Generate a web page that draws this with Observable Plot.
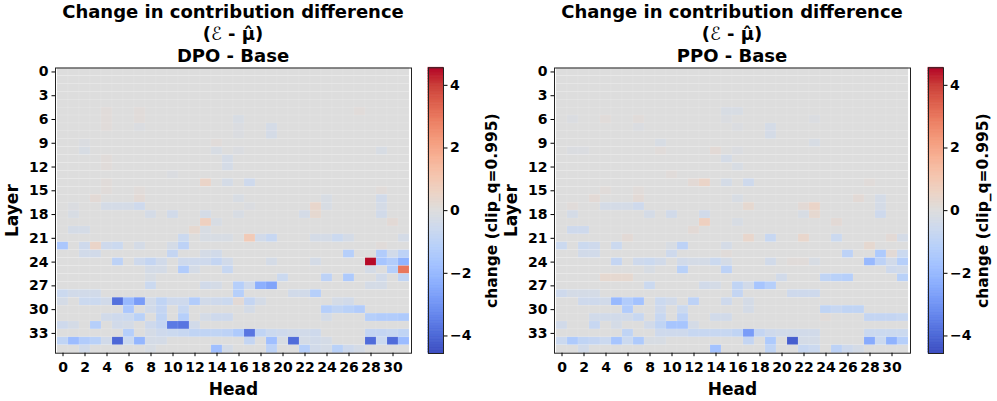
<!DOCTYPE html>
<html><head><meta charset="utf-8">
<script src="https://cdn.jsdelivr.net/npm/d3@7"></script>
<script src="https://cdn.jsdelivr.net/npm/@observablehq/plot@0.6"></script>
<style>
body{margin:0;background:#fff;}
#chart{position:relative;width:997px;height:401px;overflow:hidden;font-family:"DejaVu Sans",sans-serif;}
.abs{position:absolute;top:0;}
.title{position:absolute;top:1px;width:420px;text-align:center;font-weight:bold;font-size:18px;line-height:22px;color:#000;white-space:nowrap;font-family:"DejaVu Sans",sans-serif;}
.cal{font-style:italic;font-weight:normal;}
</style></head><body><div id="chart"></div><script>
const heads = [0,1,2,3,4,5,6,7,8,9,10,11,12,13,14,15,16,17,18,19,20,21,22,23,24,25,26,27,28,29,30,31];
const layers = [0,1,2,3,4,5,6,7,8,9,10,11,12,13,14,15,16,17,18,19,20,21,22,23,24,25,26,27,28,29,30,31,32,33,34,35];
const headTicks = [0,2,4,6,8,10,12,14,16,18,20,22,24,26,28,30];
const layerTicks = [0,3,6,9,12,15,18,21,24,27,30,33];
const cbTicks = [-4,-2,0,2,4];
const cbMin = -4.56, cbMax = 4.56;
const titleLine1 = "Change in contribution difference";
const panelNames = ["DPO - Base", "PPO - Base"];
const cbLabel = "change (clip_q=0.995)";
const coolwarmColors = ["#3b4cc0","#4d68d7","#6282ea","#779af7","#8db0fe","#a3c2ff","#b8d0f9","#ccd9ee","#dddddd","#ecd3c5","#f5c4ad","#f7b194","#f49a7b","#ec7f63","#de604d","#cb3e38","#b40426"];

const dpo = [
[0,0,0,0,0,0,0,0, 0,0,0,0,0,0,0,0, 0,0,0,0,0,0,0,0, 0,0,0,0,0,0,0,0],
[0,0,0,0,0,0,0,0, 0,0,0,0,0,0,0,0, 0,0,0,0,0,0,0,0, 0,0,0,0,0,0,0,0],
[0,0,0,0,0,0,0,0, 0,0,0,0,0,0,0,0, 0,0,0,0,0,0,0,0, 0,0,0,0,0,0,0,0],
[0,0,0,0,0,0,0,0, 0,0,0,0,0,0,0,0, 0,0,0,0,0,0,0,0, 0,0,0,0,0,0,0,0],
[0,0,0,0,0,0,0,0, 0,0,0,0,0,0,0,0, 0,0,0,0,0,0,0,0, 0,0,0,0,0,0,0,0],
[0,0,0,0,.1,0,0,.1, 0,0,0,0,0,0,0,0, 0,0,0,0,0,0,0,0, 0,0,0,.1,0,0,0,0],
[0,0,0,0,.1,0,0,.1, 0,0,0,0,0,0,0,0, -.2,0,0,0,0,0,0,0, 0,0,0,0,0,0,0,0],
[0,0,0,0,.1,0,0,-.1, 0,0,0,0,0,0,0,0, -.1,0,0,-.3,0,0,0,0, 0,0,0,0,0,0,0,0],
[0,0,0,0,0,0,0,0, 0,0,0,0,0,0,0,0, -.1,0,0,-.3,0,0,0,0, 0,0,0,0,0,0,0,0],
[0,0,-.1,0,0,0,0,0, 0,0,0,0,0,0,.1,0, 0,0,0,0,0,0,0,0, 0,0,0,0,0,0,0,0],
[0,0,-.2,0,0,0,0,0, 0,0,0,0,0,0,-.2,0, -.1,0,0,0,0,0,0,0, 0,0,0,0,0,-.2,0,0],
[0,0,0,0,.1,0,0,0, 0,0,0,0,0,0,0,-.3, 0,0,0,0,0,0,0,0, 0,0,0,0,0,0,0,0],
[0,0,0,0,.1,0,0,0, 0,0,0,0,0,0,0,-.3, 0,0,0,0,0,0,0,0, 0,0,0,0,0,0,0,0],
[0,0,0,0,0,0,0,0, 0,0,-.1,0,0,0,0,0, 0,0,0,0,0,0,0,0, 0,0,0,0,0,0,0,0],
[0,0,0,0,.1,0,0,0, 0,0,0,0,0,.5,0,-.3, 0,-.5,0,0,0,0,0,0, 0,0,0,0,0,0,0,0],
[0,0,0,0,.1,0,0,.1, 0,0,0,0,0,0,0,0, 0,0,0,0,0,0,0,0, 0,0,0,0,0,.1,0,0],
[0,0,0,.2,0,0,0,.2, 0,0,0,0,0,0,0,0, -.2,0,0,0,0,0,0,0, -.2,0,0,0,0,-.4,0,0],
[0,-.1,0,0,-.3,-.3,-.3,-.5, 0,0,0,0,0,0,0,0, 0,-.1,0,0,0,0,0,.4, -.2,0,0,0,0,-.3,0,0],
[0,-.2,0,0,0,0,0,0, -.3,0,-.4,0,0,-.3,0,0, -.2,0,0,0,0,0,-.3,.3, 0,0,0,0,0,-.4,0,0],
[0,0,0,0,0,0,0,0, 0,0,0,0,0,.7,-.2,0, 0,0,0,0,0,0,0,0, 0,0,0,0,0,0,.2,0],
[0,-.3,-.3,0,0,0,0,0, 0,0,0,0,.3,-.2,0,0, 0,0,0,0,0,0,0,0, 0,0,0,0,0,0,0,0],
[0,0,0,0,0,0,0,0, 0,0,0,-.6,0,-.2,-.2,-.2, 0,.9,-.4,-.7,0,0,0,-.3, -.3,-.6,-.3,0,0,0,0,-.3],
[-1.5,0,-.5,.5,-.5,-.6,0,-.3, 0,0,-.3,-1,0,0,0,0, 0,0,0,0,0,0,0,0, 0,0,0,0,0,.1,0,0],
[0,0,-.4,-.4,0,0,0,0, 0,0,-.8,0,0,-.3,-.4,0, 0,0,0,0,0,0,0,0, 0,0,-1.2,0,0,-1.3,-.4,-1],
[0,0,0,0,0,-1,0,-.5, -.8,-.4,0,-.5,-.5,-.5,-.8,-.4, 0,0,0,-.3,0,0,0,-.3, 0,0,0,0,4.5,-1.6,-1.3,-2.2],
[0,0,0,0,0,0,0,0, -.3,-.3,0,-1.3,-.3,0,0,-.7, 0,0,0,0,0,0,0,0, 0,0,0,0,-.3,0,-1.2,3],
[0,0,0,0,0,0,0,0, -.2,0,0,0,0,0,0,0, 0,0,0,0,-.6,0,0,0, -1,0,-1.4,0,0,-.4,0,-.9],
[0,0,0,0,0,0,0,0, -.6,0,0,0,0,-.4,-.3,0, -1.2,-.5,-2.3,-2.6,0,0,0,0, 0,0,0,0,-.3,-.3,0,0],
[-.6,-.4,-.4,-.4,0,0,0,0, 0,0,0,0,0,0,0,0, -1.2,0,0,0,0,-.4,-.4,-1.2, 0,0,0,0,0,0,0,0],
[-.3,0,-.6,-.6,-.4,-3.8,-2,-2.8, -.4,-.9,-.5,-.5,-1.3,-.4,-.5,-.6, .2,-.8,-.3,0,0,0,0,0, 0,-.3,-.4,0,0,0,0,0],
[0,0,0,0,0,0,-1.5,0, -.4,-.8,0,-.7,0,0,0,0, 0,-.3,0,0,0,0,0,0, -1.2,-.9,-1.1,-1.3,0,0,0,0],
[0,0,0,0,-.4,-.5,-.6,-1.1, 0,-.9,0,-1.2,0,-.3,-.5,-.5, 0,0,0,0,0,0,0,0, -.3,0,0,0,-1.2,-1.3,-1.3,-1.4],
[-.5,-.3,0,-1.2,0,-.4,-.3,0, -.5,-.8,-3.6,-3.7,-.4,0,0,0, 0,0,0,0,0,0,0,0, 0,0,0,0,0,0,0,0],
[0,0,0,0,0,0,-1.2,0, -.3,-.5,-.6,-.7,-.9,-.9,-.9,-1, -1.4,-3.7,-.9,-.6,-.5,-.4,-.4,-.5, 0,0,0,0,-.8,-.8,-.7,-.9],
[-.9,-1.9,-1.3,-1.1,-.4,-4,-.6,-2.1, -.3,-.3,0,0,0,0,0,0, 0,-.8,0,-1.8,-.2,-3.9,-.3,-.4, -.3,0,0,0,-3.9,-.6,-3.9,-1.9],
[0,0,-.4,0,0,0,0,0, -.2,0,0,0,0,0,-1.8,-.3, 0,0,0,-1,0,0,-1.2,-.4, -.3,-1.1,-.5,-.3,0,0,0,0]
];

const ppo = [
[0,0,0,0,0,0,0,0, 0,0,0,0,0,0,0,0, 0,0,0,0,0,0,0,0, 0,0,0,0,0,0,0,0],
[0,0,0,0,0,0,0,0, 0,0,0,0,0,0,0,0, 0,0,0,0,0,0,0,0, 0,0,0,0,0,0,0,0],
[0,0,0,0,0,0,0,0, 0,0,0,0,0,0,0,0, 0,0,0,0,0,0,0,0, 0,0,0,0,0,0,0,0],
[0,0,0,0,0,0,0,0, 0,0,0,0,0,0,0,0, 0,0,0,0,0,0,0,0, 0,0,0,0,0,0,0,0],
[0,0,0,0,0,0,0,0, 0,0,0,0,0,0,0,0, 0,0,0,0,0,0,0,0, 0,0,0,0,0,0,0,0],
[0,0,0,0,0,0,0,0, 0,0,0,0,0,0,0,-.2, -.2,0,0,0,0,0,0,0, 0,0,0,0,0,0,0,0],
[0,-.1,0,0,.1,0,0,.1, 0,0,0,0,0,0,0,-.1, 0,0,0,0,0,0,0,-.1, 0,0,0,0,0,0,0,0],
[0,0,0,0,0,0,0,-.1, 0,0,0,0,0,0,0,0, -.1,0,0,-.3,0,0,0,0, 0,0,0,0,0,0,0,0],
[0,0,0,0,0,0,0,0, 0,0,0,0,0,0,0,0, 0,0,0,-.3,0,0,0,0, 0,0,0,0,0,0,0,0],
[0,0,0,0,0,0,0,0, 0,-.2,0,0,0,0,0,0, 0,0,0,0,0,0,0,-.2, 0,0,0,0,0,0,0,0],
[0,-.1,-.1,0,0,0,0,0, 0,.1,0,0,0,0,.2,0, -.1,0,0,0,0,0,0,0, 0,0,0,0,0,0,0,0],
[0,0,0,0,0,0,0,0, 0,0,0,0,0,0,0,-.3, 0,0,0,0,0,0,0,0, 0,0,0,0,0,0,0,0],
[0,0,0,0,0,0,0,0, 0,0,0,0,0,0,0,0, -.2,0,0,0,0,0,0,0, 0,0,0,0,0,0,0,0],
[0,0,0,0,0,0,0,0, 0,0,.1,0,0,0,0,0, 0,0,0,0,0,0,0,0, 0,0,0,0,0,0,0,0],
[0,0,0,0,0,0,0,0, 0,0,0,0,.2,.5,0,-.3, 0,-.5,0,0,0,0,0,0, 0,0,0,0,.1,0,0,0],
[0,0,0,0,.1,0,0,.1, 0,0,0,0,0,0,0,0, 0,0,0,0,0,0,0,0, 0,0,0,0,0,0,0,0],
[0,0,0,.2,0,0,0,.2, 0,0,0,0,0,0,0,0, -.2,0,0,0,0,0,0,0, 0,0,0,.2,0,-.3,0,0],
[0,.1,0,0,-.3,-.3,-.3,-.5, 0,0,0,0,0,0,0,0, 0,.3,0,0,0,0,.2,.5, 0,0,0,0,0,-.3,0,0],
[0,-.3,0,0,0,0,0,0, -.3,0,-.4,0,0,-.4,0,0, 0,0,0,0,0,0,-.2,.3, 0,0,0,0,0,-.5,0,0],
[0,0,0,0,0,0,0,0, 0,0,0,0,0,.7,0,0, -.2,0,0,0,0,0,0,0, 0,.2,0,0,0,0,0,0],
[0,-.5,-.5,0,0,0,0,0, 0,0,0,0,.2,0,0,0, 0,0,0,0,0,0,0,0, 0,0,0,0,0,0,0,0],
[0,0,0,0,0,0,.2,0, 0,0,0,0,0,0,0,0, 0,.4,0,-.7,0,0,.4,0, 0,-.6,0,0,0,0,.2,-.3],
[-.6,0,-.6,-.5,0,-.6,0,0, 0,0,-.2,-1,0,0,0,-.3, 0,0,0,0,0,0,0,0, 0,0,0,0,.3,0,0,0],
[0,0,-.4,-.4,0,0,0,0, 0,0,-.5,0,0,0,0,.1, 0,0,0,0,0,0,0,0, 0,0,-1,0,0,-1.4,.2,-.6],
[0,0,0,0,0,-.8,0,-.5, -.6,-.4,0,-.4,-.3,-.3,-.6,-.3, 0,0,0,-.4,0,.1,.1,-.2, 0,0,0,0,-2,-1,-.4,-1.2],
[0,0,0,0,0,0,0,0, -.2,0,0,-1.1,0,0,0,-1, 0,0,0,0,0,0,0,0, 0,0,0,0,0,0,-.5,-.4],
[0,0,0,0,.3,.3,.3,0, 0,0,0,0,0,0,0,0, 0,0,0,0,-.4,0,0,0, -.9,-1.1,-1.2,0,0,0,0,-1.1],
[0,0,0,0,0,0,0,0, -.6,0,0,0,0,-.4,-.3,0, -.9,-.4,-1.6,-1.2,0,0,0,0, 0,0,0,0,0,0,0,0],
[-.5,-.3,-.3,-.3,0,0,0,0, 0,0,0,0,0,0,0,0, -.8,0,0,0,0,-.5,-.5,-.5, 0,0,0,0,0,0,0,0],
[0,0,-.5,-.5,-.4,-2,-1.3,-1.7, 0,-.6,-.4,0,-1,0,0,-.5, 0,-.3,0,0,0,0,0,0, 0,0,0,0,0,0,0,0],
[0,0,0,0,0,0,-1.3,0, 0,-.5,0,-.6,0,0,0,0, 0,-.3,0,0,0,0,0,0, -.9,-.7,-.9,-.9,0,0,0,0],
[0,0,0,-.4,-.4,-.4,-.4,-.7, 0,-.7,0,-1,0,0,-.4,-.4, 0,0,0,0,0,0,0,0, .1,0,0,0,-.8,-.8,-.8,-.7],
[-.4,0,0,-.7,0,-.3,0,0, -.4,-.9,-1.6,-1.6,-.3,0,0,0, 0,0,0,0,0,0,0,0, 0,0,0,0,0,0,0,0],
[0,0,0,0,0,0,-.9,0, 0,-.5,-.5,-.5,-.7,-.7,-.7,-.7, -.9,-2.8,-.8,-.5,-.4,-.4,-.4,-.4, 0,0,0,0,-.6,-.6,-.6,-.6],
[-.6,-1.4,-.9,-.8,-.6,-1.6,-.6,-1.4, -.2,-.2,0,0,0,0,0,0, 0,-.8,0,-1.4,0,-4.2,-.3,-.3, 0,0,0,0,-2.4,-.6,-2.2,-1.2],
[0,0,-.4,0,0,0,0,0, 0,0,0,0,0,0,-1.7,0, 0,0,0,-.9,0,0,-.7,-.6, 0,-1,-.5,-.3,0,0,0,0]
];

const coolwarm = d3.piecewise(d3.interpolateRgb, coolwarmColors);
const colorScale = {type: "linear", domain: [cbMin, cbMax], interpolate: coolwarm, clamp: true};
const baseStyle = {fontFamily: "DejaVu Sans", fontSize: "14px", fontWeight: "bold", color: "#000", background: "transparent", overflow: "visible"};

function heat(rows) {
  const cells = rows.flatMap((row, i) => row.map((v, j) => ({layer: layers[i], head: heads[j], value: v})));
  return Plot.plot({
    width: 420, height: 401,
    marginTop: 67.5, marginBottom: 48.3, marginLeft: 55, marginRight: 9,
    style: baseStyle,
    x: {type: "band", domain: heads, padding: 0},
    y: {type: "band", domain: layers, padding: 0},
    color: colorScale,
    marks: [
      Plot.cell(cells, {x: "head", y: "layer", fill: "value", inset: 0, stroke: "#fff", strokeOpacity: 0.14, strokeWidth: 0.6}),
      Plot.frame({stroke: "#222", strokeWidth: 1}),
      Plot.axisX(headTicks, {tickSize: 3.5, tickPadding: 5, label: null, stroke: "#000"}),
      Plot.axisY(layerTicks, {tickSize: 3.5, tickPadding: 3.5, label: null, stroke: "#000"}),
      Plot.text(["Head"], {text: d => d, frameAnchor: "bottom", lineAnchor: "middle", dy: 36, fontSize: 17, fontWeight: "bold"}),
      Plot.text(["Layer"], {text: d => d, frameAnchor: "left", textAnchor: "middle", lineAnchor: "middle", dx: -43, rotate: -90, fontSize: 17, fontWeight: "bold"})
    ]
  });
}

function colorbar(labelDx) {
  const n = 180, step = (cbMax - cbMin) / n;
  const stops = d3.range(n).map(i => cbMin + i * step);
  return Plot.plot({
    width: 77, height: 401,
    marginTop: 67.3, marginBottom: 48, marginLeft: 8, marginRight: 54,
    style: baseStyle,
    y: {domain: [cbMin, cbMax]},
    color: colorScale,
    marks: [
      Plot.rect(stops, {y1: d => d, y2: d => d + step, fill: d => d + step / 2, stroke: d => d + step / 2, strokeWidth: 0.8}),
      Plot.frame({stroke: "#222", strokeWidth: 1}),
      Plot.axisY(cbTicks, {anchor: "right", tickSize: 3.5, tickPadding: 3, label: null, stroke: "#000", tickFormat: d => d < 0 ? "\u2212" + (-d) : String(d)}),
      Plot.text([cbLabel], {text: d => d, frameAnchor: "right", textAnchor: "middle", lineAnchor: "middle", dx: labelDx, rotate: -90, fontSize: 15.5, fontWeight: "bold"})
    ]
  });
}

const chart = document.getElementById("chart");
function place(el, left) { el.classList.add("abs"); el.style.left = left + "px"; el.style.position = "absolute"; el.style.top = "0px"; chart.appendChild(el); }

place(heat(dpo), 0);
place(colorbar(48.5), 420);
place(heat(ppo), 499);
place(colorbar(39.5), 920);

[[23, panelNames[0]], [522, panelNames[1]]].forEach(([left, name]) => {
  const t = document.createElement("div");
  t.className = "title";
  t.style.left = left + "px";
  t.innerHTML = titleLine1 + "<br>(<span class='cal'>\u2130</span> - \u03bc\u0302)<br>" + name;
  chart.appendChild(t);
});
</script></body></html>
